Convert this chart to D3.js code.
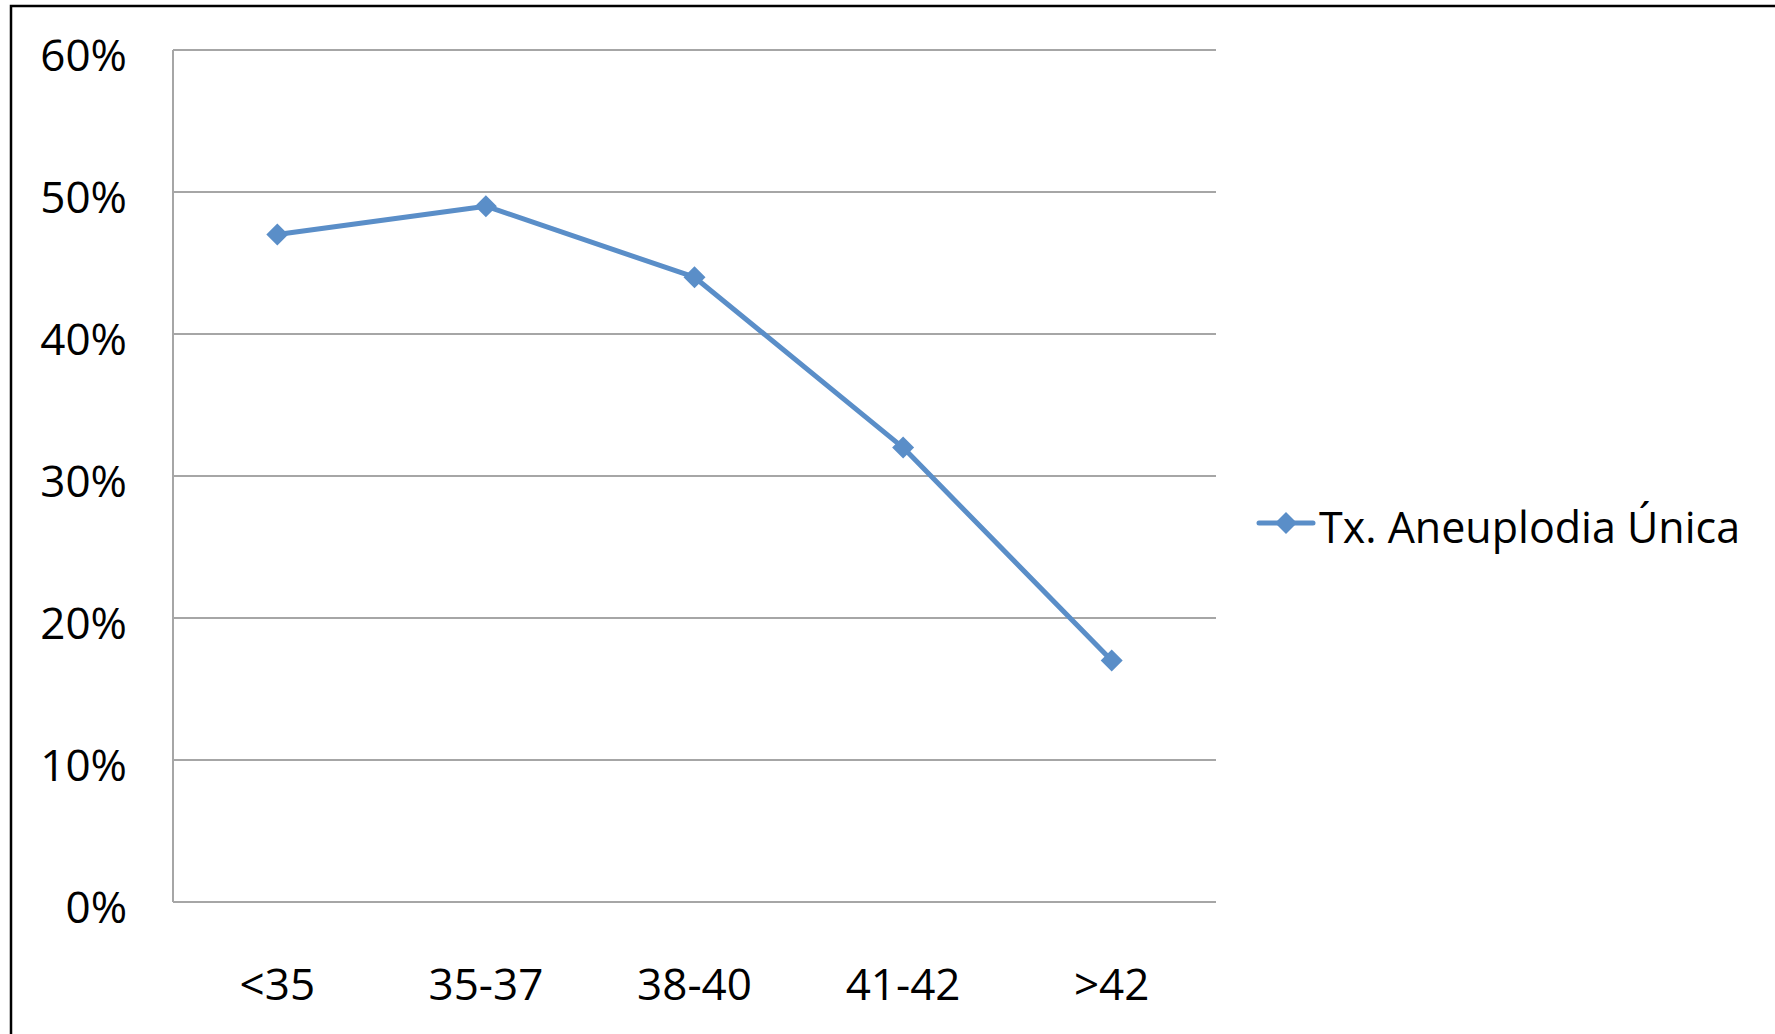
<!DOCTYPE html>
<html>
<head>
<meta charset="utf-8">
<script src="https://cdn.jsdelivr.net/npm/d3@7"></script>
<style>
  html, body { margin: 0; padding: 0; background: #fff; }
  svg { display: block; }
  text { font-family: "Open Sans", "Noto Sans", sans-serif; fill: #000; }
</style>
</head>
<body>
<svg id="chart" width="1775" height="1034"></svg>
<script>
// Age groups and the single-aneuploidy rate for each
const categories = ["<35", "35-37", "38-40", "41-42", ">42"];
const seriesName = "Tx. Aneuplodia Única";
const rates = [0.47, 0.49, 0.44, 0.32, 0.17];
const yTicks = [0, 0.1, 0.2, 0.3, 0.4, 0.5, 0.6];

const W = 1775, H = 1034;
const plot = { left: 173, right: 1216, top: 50, bottom: 902 };
const lineColor = "#5a8ec8";
const gridColor = "#a6a6a6";
const fontSize = 44;

const svg = d3.select("#chart");

// Outer frame (runs off the right and bottom edges)
svg.append("rect")
  .attr("x", 11).attr("y", 6)
  .attr("width", W + 20).attr("height", H + 20)
  .attr("fill", "none").attr("stroke", "#000").attr("stroke-width", 2.5);

const x = d3.scaleBand().domain(categories).range([plot.left, plot.right]);
const y = d3.scaleLinear().domain([0, 0.6]).range([plot.bottom, plot.top]);

// Horizontal gridlines
svg.append("g").selectAll("line").data(yTicks).join("line")
  .attr("x1", plot.left).attr("x2", plot.right)
  .attr("y1", d => y(d)).attr("y2", d => y(d))
  .attr("stroke", gridColor).attr("stroke-width", 2);

// Vertical axis line
svg.append("line")
  .attr("x1", plot.left).attr("x2", plot.left)
  .attr("y1", plot.top).attr("y2", plot.bottom)
  .attr("stroke", gridColor).attr("stroke-width", 2);

// Y axis labels
const yAxis = d3.axisLeft(y).tickValues(yTicks).tickFormat(d3.format(".0%")).tickSize(0).tickPadding(46);
const gy = svg.append("g").attr("transform", `translate(${plot.left},0)`).call(yAxis);
gy.select(".domain").remove();
gy.selectAll("text")
  .attr("font-size", fontSize).attr("dy", "0")
  .attr("transform", "translate(0,20)")
  .style("font-family", '"Open Sans", sans-serif').attr("fill", "#000");

// X axis labels
const xAxis = d3.axisBottom(x).tickSize(0).tickPadding(98);
const gx = svg.append("g").attr("transform", `translate(0,${plot.bottom})`).call(xAxis);
gx.select(".domain").remove();
gx.selectAll("text")
  .attr("font-size", fontSize).attr("dy", "0")
  .style("font-family", '"Open Sans", sans-serif').attr("fill", "#000");

// Series line
const cx = d => x(d) + x.bandwidth() / 2;
const line = d3.line().x((d, i) => cx(categories[i])).y(d => y(d));
svg.append("path").datum(rates)
  .attr("d", line)
  .attr("fill", "none").attr("stroke", lineColor)
  .attr("stroke-width", 5).attr("stroke-linejoin", "round");

// Diamond markers
const r = 11;
const diamond = `M0,${-r}L${r},0L0,${r}L${-r},0Z`;
svg.append("g").selectAll("path").data(rates).join("path")
  .attr("d", diamond)
  .attr("transform", (d, i) => `translate(${cx(categories[i])},${y(d)})`)
  .attr("fill", lineColor);

// Legend
const lg = svg.append("g").attr("transform", "translate(1257,523)");
lg.append("line").attr("x1", 2).attr("x2", 56).attr("y1", 0).attr("y2", 0)
  .attr("stroke", lineColor).attr("stroke-width", 5).attr("stroke-linecap", "round");
lg.append("path").attr("d", diamond).attr("transform", "translate(29,0)").attr("fill", lineColor);
lg.append("text").attr("x", 62).attr("y", 20)
  .attr("font-size", 43).text(seriesName);
</script>
</body>
</html>
